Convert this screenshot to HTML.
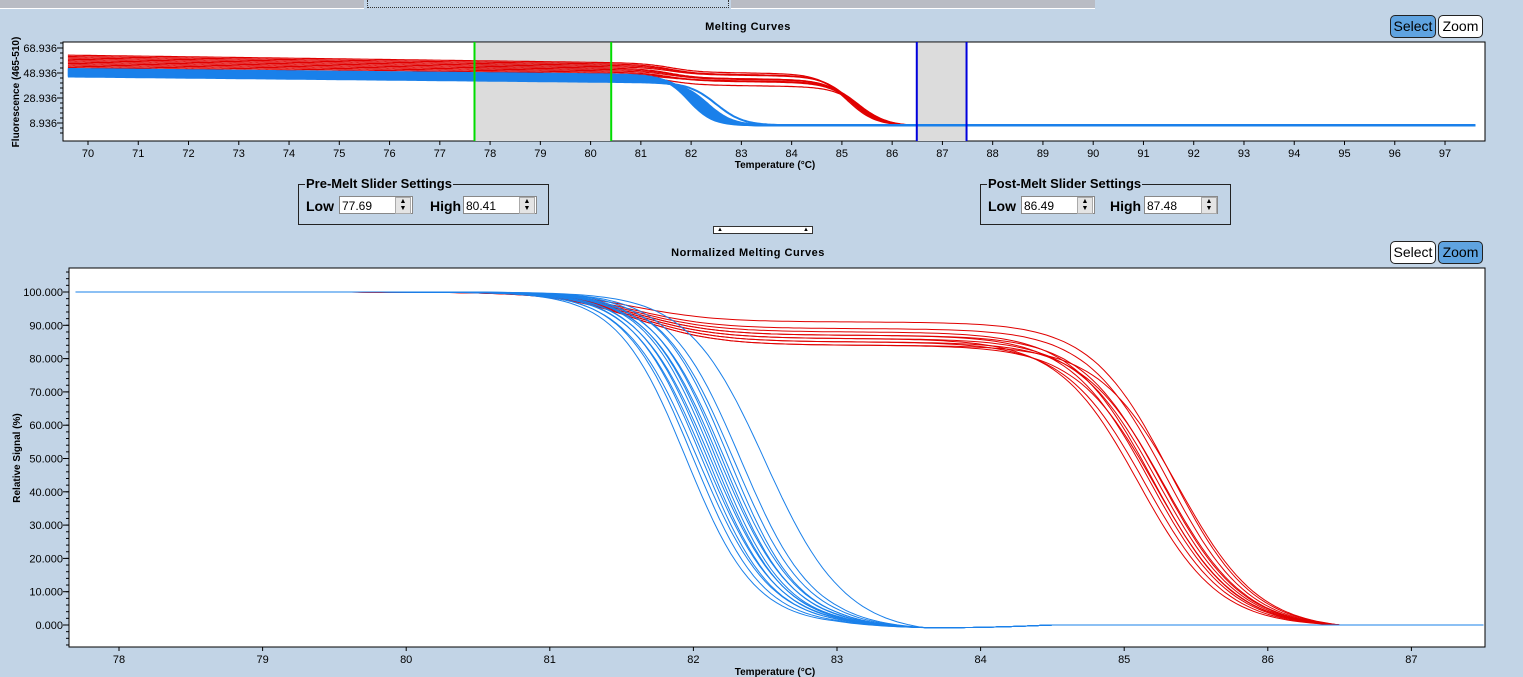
<!DOCTYPE html>
<html><head><meta charset="utf-8">
<style>
body{margin:0;width:1523px;height:677px;overflow:hidden;background:#c2d4e6;font-family:"Liberation Sans",sans-serif;position:relative}
.abs{position:absolute}
.btn{position:absolute;height:21px;border:1px solid #222;border-radius:5px;font-size:14px;line-height:21px;text-align:center;background:#fff;font-family:"Liberation Sans",sans-serif}
.btn.on{background:#5fa3e0}
.grp{position:absolute;border:1px solid #222}
.grp .lg{position:absolute;top:-9px;left:6px;background:#c2d4e6;font-weight:bold;font-size:13px;padding:0 1px}
.grp .lb{position:absolute;top:13px;font-weight:bold;font-size:14px}
.inp{position:absolute;top:11px;height:18px;background:#fff;border:1px solid #888;font-size:12px;line-height:18px;padding-left:2px;box-sizing:border-box}
.spin{position:absolute;top:12px;width:16px;height:17px;background:#e4e4e4;border:1px solid #aaa;box-sizing:border-box;font-size:7px;line-height:7px;text-align:center}
</style></head><body>
<div class="abs" style="left:0;top:0;width:364px;height:8px;background:#b9bcc4;border-bottom:1px solid #fff"></div>
<div class="abs" style="left:367px;top:0;width:360px;height:7px;border:1px dotted #333;border-top:none;background:#c2d4e6"></div>
<div class="abs" style="left:731px;top:0;width:364px;height:8px;background:#b9bcc4;border-bottom:1px solid #fff"></div>

<div class="abs" style="left:0;width:1496px;top:21px;text-align:center;font-weight:bold;font-size:11px;letter-spacing:0.5px">Melting Curves</div>
<div class="btn on" style="left:1390px;top:15px;width:44px">Select</div>
<div class="btn" style="left:1438px;top:15px;width:43px">Zoom</div>

<div class="abs" style="left:0;width:1496px;top:247px;text-align:center;font-weight:bold;font-size:11px;letter-spacing:0.5px">Normalized Melting Curves</div>
<div class="btn" style="left:1390px;top:241px;width:44px">Select</div>
<div class="btn on" style="left:1438px;top:241px;width:43px">Zoom</div>

<div class="grp" style="left:298px;top:184px;width:249px;height:39px">
 <div class="lg">Pre-Melt Slider Settings</div>
 <div class="lb" style="left:7px">Low</div>
 <div class="inp" style="left:40px;width:74px">77.69</div>
 <div class="spin" style="left:96px">▲<br>▼</div>
 <div class="lb" style="left:131px">High</div>
 <div class="inp" style="left:164px;width:74px">80.41</div>
 <div class="spin" style="left:220px">▲<br>▼</div>
</div>
<div class="grp" style="left:980px;top:184px;width:249px;height:39px">
 <div class="lg">Post-Melt Slider Settings</div>
 <div class="lb" style="left:7px">Low</div>
 <div class="inp" style="left:40px;width:74px">86.49</div>
 <div class="spin" style="left:96px">▲<br>▼</div>
 <div class="lb" style="left:129px">High</div>
 <div class="inp" style="left:163px;width:74px">87.48</div>
 <div class="spin" style="left:220px">▲<br>▼</div>
</div>
<div class="abs" style="left:713px;top:226px;width:98px;height:6px;border:1px solid #333;background:#fff;font-size:6px;line-height:6px"><span style="position:absolute;left:3px">▲</span><span style="position:absolute;right:3px">▲</span></div>

<svg id="chart" width="1523" height="677" style="position:absolute;left:0;top:0" xmlns="http://www.w3.org/2000/svg" font-family="Liberation Sans, sans-serif"></svg>

<script>
// ---- data ----
const blueTm=[81.95,82.0,82.03,82.06,82.08,82.1,82.12,82.14,82.16,82.18,82.2,82.22,82.25,82.28,82.33,82.5];
const blueW=[0.24,0.24,0.25,0.24,0.25,0.24,0.25,0.24,0.24,0.25,0.24,0.25,0.24,0.25,0.25,0.27];
const redTm=[85.1,85.15,85.18,85.2,85.22,85.24,85.26,85.28,85.3,85.33,85.38];
const redPlateau=[86,85,87,88,84,86,87,85,89,91,84];
const topXTicks=[70,71,72,73,74,75,76,77,78,79,80,81,82,83,84,85,86,87,88,89,90,91,92,93,94,95,96,97];
const topYTicks=[8.936,28.936,48.936,68.936];
const botXTicks=[78,79,80,81,82,83,84,85,86,87];
const botYTicks=[0,10,20,30,40,50,60,70,80,90,100];
const sliders=[77.69,80.41,86.49,87.48];

const svg=document.getElementById('chart');
const NS='http://www.w3.org/2000/svg';
function el(tag,attrs,parent){const e=document.createElementNS(NS,tag);for(const k in attrs)e.setAttribute(k,attrs[k]);(parent||svg).appendChild(e);return e;}

const T={x0:63,x1:1485,y0:42,y1:141};
const tx=v=>88+(v-70)*50.26;
const ty=v=>123-(v-8.936)*1.25;
const B={x0:69,x1:1485,y0:268,y1:647};
const bx=v=>119+(v-78)*143.6;
const by=v=>625-v*3.33;

function frame(F,name){
  const r=el('rect',{x:F.x0,y:F.y0,width:F.x1-F.x0,height:F.y1-F.y0,fill:'#fff',stroke:'#000','stroke-width':1});
  
  
}
frame(T,'melting-curves-plot');
frame(B,'normalized-curves-plot');

const clipT=el('clipPath',{id:'ct'});el('rect',{x:T.x0,y:T.y0,width:T.x1-T.x0,height:T.y1-T.y0},clipT);
const clipB=el('clipPath',{id:'cb'});el('rect',{x:B.x0,y:B.y0,width:B.x1-B.x0,height:B.y1-B.y0},clipB);
const pre=el('rect',{x:tx(sliders[0]),y:T.y0+1,width:tx(sliders[1])-tx(sliders[0]),height:T.y1-T.y0-1,fill:'#dcdcdc'});


const post=el('rect',{x:tx(sliders[2]),y:T.y0+1,width:tx(sliders[3])-tx(sliders[2]),height:T.y1-T.y0-1,fill:'#dcdcdc'});



function sig(t,tm,w){return 1/(1+Math.exp((t-tm)/w));}
function sigN(t,tm,w,end){const e=sig(end,tm,w);return Math.max(0,(sig(t,tm,w)-e)/(1-e));}
function blueNorm(i,t){return 100*sigN(t,blueTm[i],blueW[i],83.6) - 0.8*(t>83&&t<84.5?Math.sin((t-83)/1.5*Math.PI):0);}
function redNorm(i,t){const p=redPlateau[i];const s1=sig(t,81.6,0.28);return sigN(t,redTm[i],0.28,86.5)*(p+(100-p)*s1);}
function blueRaw(i,t){const base=52-i*0.4-(t-70)*0.4;return 7+(base-7)*sig(t,blueTm[i],blueW[i]);}
function redRaw(i,t){const base=63-i*1.1-(t-70)*0.55;const p=redPlateau[i]/100;const s1=sig(t,81.6,0.28);return 7+(base-7)*sigN(t,redTm[i],0.28,86.5)*(p+(1-p)*s1);}

function drawSeries(fn,n,xs,ys,t0,t1,color,clip,name,sw){
  const g=el('g',{'clip-path':'url(#'+clip+')'});
  
  
  for(let i=0;i<n;i++){
    let d='';
    for(let t=t0;t<=t1+1e-9;t+=0.04){d+=(d?'L':'M')+xs(t).toFixed(1)+','+ys(fn(i,t)).toFixed(1);}
    const p=el('path',{d:d,fill:'none',stroke:color,'stroke-width':sw},g);
    
    
  }
}
drawSeries(redRaw,redTm.length,tx,ty,69.6,88,'#e00000','ct','top-red-series',1.2);
drawSeries(blueRaw,blueTm.length,tx,ty,69.6,97.6,'#1a80ea','ct','top-blue-series',2);
drawSeries(redNorm,redTm.length,bx,by,77.7,87.5,'#e00000','cb','bottom-red-series',1);
drawSeries(blueNorm,blueTm.length,bx,by,77.7,87.5,'#1a80ea','cb','bottom-blue-series',1);

[[0,'#00dd00'],[1,'#00dd00'],[2,'#0000dd'],[3,'#0000dd']].forEach(([i,c])=>{
  const l=el('line',{x1:tx(sliders[i]),x2:tx(sliders[i]),y1:T.y0,y2:T.y1,stroke:c,'stroke-width':2});
  
  
});

function axisX(F,ticks,xs,name){
  const g=el('g',{});
  
  
  ticks.forEach(v=>{
    el('line',{x1:xs(v),x2:xs(v),y1:F.y1,y2:F.y1+4,stroke:'#000'},g);
    const t=el('text',{x:xs(v),y:F.y1+16,'font-size':11,'text-anchor':'middle'},g);t.textContent=v;
  });
}
function axisY(F,ticks,ys,fmt,name,minorStep,lo,hi){
  const g=el('g',{});
  
  
  for(let v=lo;v<=hi+1e-9;v+=minorStep){const y=ys(v);if(y>F.y0&&y<F.y1)el('line',{x1:F.x0-3,x2:F.x0,y1:y,y2:y,stroke:'#000'},g);}
  ticks.forEach(v=>{
    el('line',{x1:F.x0-6,x2:F.x0,y1:ys(v),y2:ys(v),stroke:'#000'},g);
    const t=el('text',{x:F.x0-6,y:ys(v)+4,'font-size':11,'text-anchor':'end'},g);t.textContent=fmt(v);
  });
}
axisX(T,topXTicks,tx,'top-x-axis');
axisX(B,botXTicks,bx,'bottom-x-axis');
axisY(T,topYTicks,ty,v=>v.toFixed(3),'top-y-axis',4,0.936,72.936);
axisY(B,botYTicks,by,v=>v.toFixed(3),'bottom-y-axis',2,-6,106);

function label(x,y,txt,name,rot){
  const t=el('text',{x:x,y:y,'font-size':10,'font-weight':'bold','text-anchor':'middle',transform:rot?'rotate(-90 '+x+' '+y+')':''});
  t.textContent=txt;
  
  
}
label(775,168,'Temperature (°C)','top-x-axis-title');
label(775,675,'Temperature (°C)','bottom-x-axis-title');
label(19,92,'Fluorescence (465-510)','top-y-axis-title',true);
label(20,458,'Relative Signal (%)','bottom-y-axis-title',true);
</script>
</body></html>
